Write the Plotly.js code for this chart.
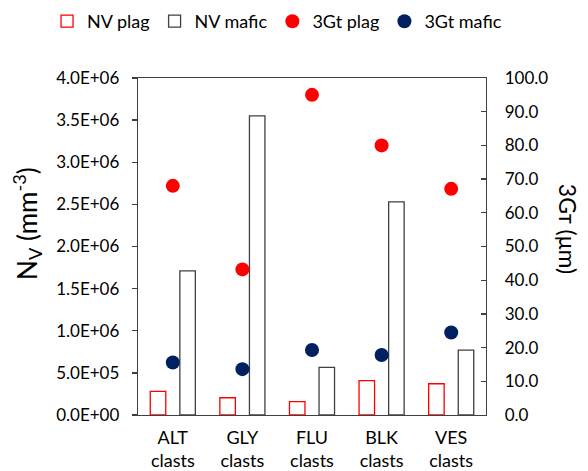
<!DOCTYPE html>
<html>
<head>
<meta charset="utf-8">
<script src="https://cdn.plot.ly/plotly-3.0.1.min.js"></script>
<style>html,body{margin:0;padding:0;background:#fff;}#chart{width:588px;height:471px;}</style>
</head>
<body>
<div id="chart"></div>
<script>
const categories = ["ALT<br>clasts", "GLY<br>clasts", "FLU<br>clasts", "BLK<br>clasts", "VES<br>clasts"];
const nvPlag = [2.8e5, 2.05e5, 1.58e5, 4.07e5, 3.71e5];
const nvMafic = [1.71e6, 3.55e6, 5.66e5, 2.53e6, 7.71e5];
const gtPlag = [68.0, 43.2, 95.0, 80.0, 67.1];
const gtMafic = [15.6, 13.6, 19.3, 17.8, 24.5];
const leftTicks = [0, 5e5, 1e6, 1.5e6, 2e6, 2.5e6, 3e6, 3.5e6, 4e6];
const leftTickText = ["0.0E+00", "5.0E+05", "1.0E+06", "1.5E+06", "2.0E+06", "2.5E+06", "3.0E+06", "3.5E+06", "4.0E+06"];

const FONT = "Lato, 'Liberation Sans', sans-serif";

const data = [
  {type: "bar", name: "NV plag", x: categories, y: nvPlag,
   marker: {color: "#ffffff", line: {color: "#ff0000", width: 1.3}}},
  {type: "bar", name: "NV mafic", x: categories, y: nvMafic,
   marker: {color: "#ffffff", line: {color: "#404040", width: 1.3}}},
  {type: "scatter", mode: "markers", name: "3Gt plag", x: categories, y: gtPlag, yaxis: "y2",
   marker: {color: "#ff0000", size: 14}},
  {type: "scatter", mode: "markers", name: "3Gt mafic", x: categories, y: gtMafic, yaxis: "y2",
   marker: {color: "#002060", size: 14}}
];

// paper area: x 20..568, y 78..415 ; axis domain places plot at x 138..486
const layout = {
  width: 588, height: 471,
  margin: {l: 20, r: 20, t: 78, b: 56, pad: 0},
  paper_bgcolor: "#ffffff", plot_bgcolor: "#ffffff",
  font: {family: FONT, size: 17, color: "#000"},
  barmode: "group", bargap: 0.15, bargroupgap: 0.476,
  showlegend: true,
  legend: {orientation: "h", x: 0.08, xanchor: "left", y: 0.9936, yanchor: "top",
           xref: "container", yref: "container",
           font: {family: FONT, size: 18, color: "#000"}, itemwidth: 30, tracegroupgap: 0},
  xaxis: {domain: [0.21533, 0.85036],
          showline: true, linecolor: "#404040", linewidth: 1.3, mirror: true,
          ticks: "", showgrid: false, zeroline: false, ticklabelstandoff: 6,
          tickfont: {family: FONT, size: 18, color: "#000"}, fixedrange: true},
  yaxis: {range: [0, 4e6], tickvals: leftTicks, ticktext: leftTickText,
          showline: true, linecolor: "#404040", linewidth: 1.3,
          ticks: "outside", ticklen: 5, tickcolor: "#404040", tickwidth: 1.3,
          showgrid: false, zeroline: false, ticklabelstandoff: 9,
          tickfont: {family: FONT, size: 17, color: "#000"}},
  yaxis2: {range: [0, 100], overlaying: "y", side: "right", dtick: 10, tickformat: ".1f",
           showline: true, linecolor: "#404040", linewidth: 1.3,
           ticks: "inside", ticklen: 5, tickcolor: "#404040", tickwidth: 1.3,
           showgrid: false, zeroline: false, ticklabelstandoff: 14,
           tickfont: {family: FONT, size: 17, color: "#000"}},
  annotations: [
    {text: "N<sub>V</sub> (mm<sup>-3</sup>)", xref: "x domain", yref: "y domain",
     x: -0.319, y: 0.57, xanchor: "center", yanchor: "middle", textangle: -90,
     showarrow: false, font: {family: FONT, size: 26, color: "#000"}},
    {text: "3Gᴛ (μm)", xref: "x domain", yref: "y domain",
     x: 1.236, y: 0.552, xanchor: "center", yanchor: "middle", textangle: 90,
     showarrow: false, font: {family: FONT, size: 23, color: "#000"}}
  ]
};

Plotly.newPlot("chart", data, layout, {staticPlot: true, displayModeBar: false});
</script>
</body>
</html>
